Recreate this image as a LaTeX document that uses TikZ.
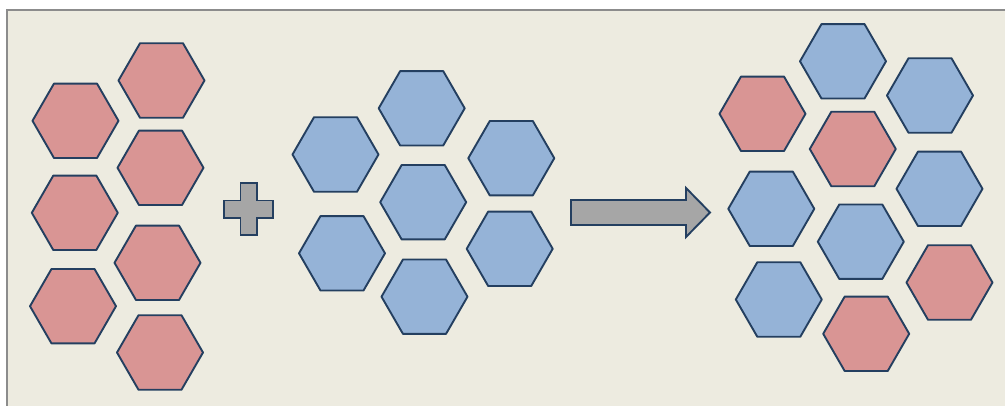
\documentclass[tikz,border=0pt]{standalone}
\usepackage{tikz}
\usetikzlibrary{shapes.geometric}
\definecolor{panel}{HTML}{EDEBE0}
\definecolor{rim}{HTML}{8C8C8C}
\definecolor{edge}{HTML}{243F60}
\definecolor{redhex}{HTML}{D99594}
\definecolor{bluehex}{HTML}{95B3D7}
\definecolor{signgray}{HTML}{A6A6A6}
\tikzstyle{hexa} = [regular polygon, regular polygon sides=6, minimum size=86pt, inner sep=0pt, outer sep=0pt, draw=edge, line width=1.9pt, line join=round]
\tikzstyle{redcell} = [hexa, fill=redhex]
\tikzstyle{bluecell} = [hexa, fill=bluehex]
\tikzstyle{sign} = [draw=edge, fill=signgray, line width=1.9pt, line join=miter]

\begin{document}
\begin{tikzpicture}[x=1pt, y=-1pt]
    \useasboundingbox (0,0) rectangle (1005,406);
    \fill [white] (0,0) rectangle (1005,406);
    \draw [rim, fill=panel, line width=1.6pt] (7,10) rectangle (1015,416);
    % left group
    \node [redcell] at (75.5,120.8) (ra) {};
    \node [redcell] at (74.8,212.8) (rb) {};
    \node [redcell] at (73,306.2) (rc) {};
    \node [redcell] at (161.5,80.5) (rd) {};
    \node [redcell] at (160.5,167.8) (re) {};
    \node [redcell] at (157.5,262.8) (rf) {};
    \node [redcell] at (160,352.5) (rg) {};
    % plus
    \draw [sign] (240.5,183) -- (257,183) -- (257,200.5) -- (273,200.5) -- (273,218) -- (257,218)
        -- (257,235) -- (240.5,235) -- (240.5,218) -- (224,218) -- (224,200.5) -- (240.5,200.5) -- cycle;
    % middle group
    \node [bluecell] at (421.7,108.3) (ba) {};
    \node [bluecell] at (335.5,154.5) (bb) {};
    \node [bluecell] at (511.3,158.2) (bc) {};
    \node [bluecell] at (423.2,202.2) (bd) {};
    \node [bluecell] at (342,253.3) (be) {};
    \node [bluecell] at (509.7,248.8) (bf) {};
    \node [bluecell] at (424.5,296.7) (bg) {};
    % arrow
    \draw [sign] (571,200) -- (686,200) -- (686,188) -- (710,212.5) -- (686,237) -- (686,225) -- (571,225) -- cycle;
    % mixed group
    \node [bluecell] at (843,61.3) (ma) {};
    \node [redcell] at (762.5,113.8) (mb) {};
    \node [bluecell] at (930,95.5) (mc) {};
    \node [redcell] at (852.8,149) (md) {};
    \node [bluecell] at (939.5,188.8) (me) {};
    \node [bluecell] at (771.3,208.8) (mf) {};
    \node [bluecell] at (860.8,241.7) (mg) {};
    \node [redcell] at (949.5,282.5) (mh) {};
    \node [bluecell] at (778.8,299.5) (mi) {};
    \node [redcell] at (866.2,333.8) (mj) {};
\end{tikzpicture}
\end{document}
